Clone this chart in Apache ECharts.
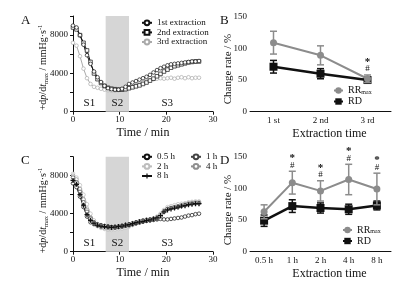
<!DOCTYPE html>
<html>
<head>
<meta charset="utf-8">
<script src="https://cdn.jsdelivr.net/npm/echarts@6/dist/echarts.min.js"></script>
<style>
html, body { margin: 0; padding: 0; background: #fff; }
#chart { width: 404px; height: 285px; }
</style>
</head>
<body>
<div id="chart"></div>
<script>
// time points (min)
const timeMin = [0, 0.75, 1.5, 2.25, 3, 3.75, 4.5, 5.25, 6, 6.75, 7.5, 8.25, 9, 9.75, 10.5, 11.25, 12, 12.75, 13.5,
  14.25, 15, 15.75, 16.5, 17.25, 18, 18.75, 19.5, 20.25, 21, 21.75, 22.5, 23.25, 24, 24.75, 25.5, 26.25, 27]

// panel A: +dp/dtmax per extraction
const ext1 = [9000, 8800, 8000, 7000, 5900, 5000, 4200, 3600, 3100, 2700, 2450, 2350, 2300, 2300, 2400, 2600, 2900, 3050, 3200,
  3350, 3500, 3650, 3850, 4100, 4350, 4550, 4700, 4850, 4950, 5000, 5050, 5100, 5150, 5200, 5250, 5250, 5300]
const ext2 = [8800, 8600, 8000, 7200, 6400, 5200, 4000, 3400, 3000, 2700, 2500, 2400, 2350, 2300, 2300, 2350, 2450, 2550, 2650,
  2750, 2900, 3050, 3250, 3450, 3700, 3950, 4200, 4400, 4600, 4750, 4850, 4950, 5050, 5150, 5200, 5250, 5250]
const ext3 = [7200, 6900, 5800, 4500, 3500, 2900, 2600, 2500, 2400, 2300, 2250, 2200, 2200, 2250, 2300, 2400, 2500, 2600, 2750,
  2900, 3050, 3200, 3300, 3400, 3450, 3500, 3450, 3500, 3550, 3450, 3550, 3600, 3500, 3600, 3500, 3550, 3550]

// panel C: +dp/dtmax per extraction duration
const h05 = [7200, 6800, 5800, 4700, 3700, 3100, 2900, 2800, 2750, 2700, 2650, 2600, 2600, 2650, 2700, 2750, 2800, 2900, 3000,
  3100, 3200, 3250, 3300, 3350, 3400, 3450, 3400, 3400, 3450, 3500, 3550, 3600, 3700, 3800, 3850, 3950, 4000]
const h1 = [7800, 7300, 6300, 5200, 4200, 3500, 3100, 2900, 2800, 2700, 2600, 2550, 2550, 2600, 2700, 2800, 2900, 3000, 3100,
  3200, 3300, 3350, 3400, 3450, 3500, 3700, 4200, 4500, 4600, 4650, 4700, 4800, 4900, 5000, 5050, 5100, 5100]
const h2 = [8200, 7800, 7000, 6000, 5000, 4000, 3300, 2800, 2500, 2400, 2300, 2300, 2350, 2400, 2450, 2550, 2650, 2800, 2950,
  3100, 3200, 3300, 3400, 3500, 3700, 4000, 4400, 4700, 4800, 4900, 5000, 5050, 5100, 5200, 5250, 5300, 5300]
const h4 = [8000, 7600, 6600, 5500, 4400, 3600, 3000, 2700, 2600, 2500, 2450, 2450, 2500, 2550, 2600, 2700, 2800, 2900, 3000,
  3050, 3150, 3250, 3350, 3450, 3600, 3900, 4300, 4500, 4600, 4700, 4800, 4900, 5000, 5100, 5150, 5200, 5200]
const h8 = [7500, 7100, 6000, 4900, 3900, 3300, 3000, 2800, 2700, 2650, 2600, 2550, 2600, 2650, 2700, 2800, 2850, 2950, 3050,
  3150, 3200, 3300, 3350, 3450, 3550, 3800, 4200, 4400, 4500, 4600, 4700, 4800, 4850, 4950, 5000, 5050, 5050]

// stages
const stageNames = ['S1', 'S2', 'S3']
const stageMid = [3.5, 9.5, 20.2]
const s2Range = [7, 12]

// panel B
const extCats = ['1 st', '2 nd', '3 rd']
const rrB = [109, 89, 52]
const rrBErr = [18, 15, 6]
const rdB = [71, 60, 50]
const rdBErr = [10, 8, 5]
const sigB = [0, 0, 1]

// panel D
const durCats = ['0.5 h', '1 h', '2 h', '4 h', '8 h']
const rrD = [63, 109, 96, 114, 99]
const rrDErr = [11, 18, 16, 24, 25]
const rdD = [49, 72, 69, 67, 73]
const rdDErr = [9, 10, 8, 8, 7]
const sigD = [0, 1, 1, 1, 1]

const FONT = '"Liberation Serif", "DejaVu Serif", serif'
const INK = '#111'
const GREY = '#8c8c8c'

const pairs = arr => timeMin.map((t, i) => [t, arr[i]])

const axisBase = {
  axisLine: { lineStyle: { color: INK, width: 1 } },
  axisTick: { length: 3, lineStyle: { color: INK } },
  splitLine: { show: false }
}

const timeAxis = gridIndex => ({
  ...axisBase,
  type: 'value', gridIndex, min: 0, max: 30, interval: 10,
  name: 'Time / min', nameLocation: 'middle', nameGap: 15,
  nameTextStyle: { fontFamily: FONT, fontSize: 12, color: INK },
  axisLabel: { fontFamily: FONT, fontSize: 9, color: INK, margin: 3 }
})

const pressureAxis = gridIndex => ({
  ...axisBase,
  type: 'value', gridIndex, min: 0, max: 10000, interval: 2000,
  axisLabel: {
    fontFamily: FONT, fontSize: 9, color: INK, margin: 5,
    formatter: v => (v % 4000 === 0 ? String(v) : '')
  }
})

const catAxis = (gridIndex, cats) => ({
  ...axisBase,
  type: 'category', gridIndex, data: cats, boundaryGap: true,
  axisTick: { length: 3, alignWithLabel: true, lineStyle: { color: INK } },
  name: 'Extraction time', nameLocation: 'middle', nameGap: 16,
  nameTextStyle: { fontFamily: FONT, fontSize: 12, color: INK, padding: [0, 0, 0, 18] },
  axisLabel: { fontFamily: FONT, fontSize: 9, color: INK, margin: 4 }
})

const rateAxis = gridIndex => ({
  ...axisBase,
  type: 'value', gridIndex, min: 0, max: 150, interval: 50,
  axisLabel: { fontFamily: FONT, fontSize: 9, color: INK, margin: 3 }
})

// rotated y titles
const pressureTitle = (x, y) => ({
  type: 'text', x, y, rotation: Math.PI / 2,
  style: {
    text: '{n|+d}{i|p}{n|/d}{i|t}{s|max}{n| / mmHg·s}{u|-1}',
    align: 'center', verticalAlign: 'middle', fill: INK,
    rich: {
      n: { fontFamily: FONT, fontSize: 10, lineHeight: 13, fill: INK },
      i: { fontFamily: FONT, fontSize: 10, lineHeight: 13, fontStyle: 'italic', fill: INK },
      s: { fontFamily: FONT, fontSize: 6.5, lineHeight: 7, verticalAlign: 'bottom', fill: INK },
      u: { fontFamily: FONT, fontSize: 6.5, lineHeight: 7, verticalAlign: 'top', fill: INK }
    }
  }
})
const rateTitle = (x, y) => ({
  type: 'text', x, y, rotation: Math.PI / 2,
  style: { text: 'Change rate / %', font: '11px ' + FONT, fill: INK, align: 'center', verticalAlign: 'middle' }
})

// hollow markers drawn as white-filled symbols with a thin border
const traceLine = (idx, name, arr, color, symbol, filled) => ({
  type: 'line', name, xAxisIndex: idx, yAxisIndex: idx,
  data: pairs(arr),
  symbol, symbolSize: filled ? 5 : 3.6,
  lineStyle: { width: 1, color },
  itemStyle: filled ? { color } : { color: '#fff', borderColor: color, borderWidth: 0.7 },
  z: 3
})

const shade = idx => ({
  type: 'line', xAxisIndex: idx, yAxisIndex: idx, data: [], z: 1,
  markArea: {
    silent: true,
    itemStyle: { color: '#d6d6d6' },
    data: [[{ xAxis: s2Range[0] }, { xAxis: s2Range[1] }]]
  }
})

const stageLabels = idx => ({
  type: 'custom', xAxisIndex: idx, yAxisIndex: idx, z: 4, silent: true,
  data: stageMid.map(x => [x, 900]),
  renderItem: (params, api) => {
    const p = api.coord([api.value(0), api.value(1)])
    return {
      type: 'text', x: p[0], y: p[1],
      style: { text: stageNames[params.dataIndex], font: '11px ' + FONT, fill: INK, align: 'center', verticalAlign: 'middle' }
    }
  }
})

const errorBars = (idx, means, errs, color, width, z) => ({
  type: 'custom', xAxisIndex: idx, yAxisIndex: idx, z, silent: true,
  data: means.map((m, i) => [i, m - errs[i], m + errs[i]]),
  renderItem: (params, api) => {
    const lo = api.coord([api.value(0), api.value(1)])
    const hi = api.coord([api.value(0), api.value(2)])
    const w = 3.5
    const st = { stroke: color, lineWidth: width }
    return {
      type: 'group',
      children: [
        { type: 'line', shape: { x1: lo[0], y1: lo[1], x2: hi[0], y2: hi[1] }, style: st },
        { type: 'line', shape: { x1: hi[0] - w, y1: hi[1], x2: hi[0] + w, y2: hi[1] }, style: st },
        { type: 'line', shape: { x1: lo[0] - w, y1: lo[1], x2: lo[0] + w, y2: lo[1] }, style: st }
      ]
    }
  }
})

const sigMarks = (idx, means, errs, flags) => ({
  type: 'custom', xAxisIndex: idx, yAxisIndex: idx, z: 6, silent: true,
  data: means.map((m, i) => [i, m + errs[i]]).filter((d, i) => flags[i]),
  renderItem: (params, api) => {
    const p = api.coord([api.value(0), api.value(1)])
    return {
      type: 'group',
      children: [
        { type: 'text', x: p[0], y: p[1] - 6, style: { text: '#', font: '9px ' + FONT, fill: INK, align: 'center', verticalAlign: 'middle' } },
        { type: 'text', x: p[0], y: p[1] - 13, style: { text: '*', font: 'bold 11px ' + FONT, fill: INK, align: 'center', verticalAlign: 'middle' } }
      ]
    }
  }
})

const rateLines = (idx, rr, rd) => [
  {
    type: 'line', name: 'RD', xAxisIndex: idx, yAxisIndex: idx, data: rd,
    symbol: 'rect', symbolSize: 8,
    lineStyle: { width: 2.5, color: INK }, itemStyle: { color: INK }, z: 3
  },
  {
    type: 'line', name: 'RRmax', xAxisIndex: idx, yAxisIndex: idx, data: rr,
    symbol: 'circle', symbolSize: 7,
    lineStyle: { width: 2, color: GREY }, itemStyle: { color: GREY }, z: 5
  }
]

const legendText = { fontFamily: FONT, fontSize: 9, color: INK, lineHeight: 9.6 }
const traceLegend = (data, left, top) => ({
  data, orient: 'vertical', left, top,
  itemWidth: 10, itemHeight: 6, itemGap: 0, textStyle: legendText
})
const rrLegend = (left, top) => ({
  data: ['RRmax', 'RD'], orient: 'vertical', left, top,
  itemWidth: 9, itemHeight: 8, itemGap: 1,
  formatter: n => (n === 'RRmax' ? 'RR{s|max}' : n),
  textStyle: {
    fontFamily: FONT, fontSize: 10, color: INK, lineHeight: 9,
    rich: { s: { fontFamily: FONT, fontSize: 6, verticalAlign: 'bottom', lineHeight: 8, color: INK } }
  }
})

const letter = (text, left, top) => ({
  text, left, top, textStyle: { fontFamily: FONT, fontSize: 13, fontWeight: 'normal', color: INK }
})

const chart = echarts.init(document.getElementById('chart'))
chart.setOption({
  animation: false,
  backgroundColor: '#fff',
  title: [letter('A', 16, 9), letter('B', 215, 9), letter('C', 16, 149), letter('D', 215, 149)],
  graphic: [
    pressureTitle(43, 67.5),
    pressureTitle(43, 210.5),
    rateTitle(228, 69),
    rateTitle(228, 210)
  ],
  grid: [
    { left: 73, top: 16, width: 140, height: 95.7 },
    { left: 250, top: 16.7, width: 141, height: 95 },
    { left: 73, top: 156.7, width: 140, height: 95 },
    { left: 250, top: 156.7, width: 141, height: 95 }
  ],
  xAxis: [timeAxis(0), catAxis(1, extCats), timeAxis(2), catAxis(3, durCats)],
  yAxis: [pressureAxis(0), rateAxis(1), pressureAxis(2), rateAxis(3)],
  legend: [
    traceLegend(['1st extraction', '2nd extraction', '3rd extraction'], 136, 13),
    traceLegend(['0.5 h', '2 h', '8 h'], 136, 147),
    traceLegend(['1 h', '4 h'], 185, 147),
    rrLegend(328, 80.5),
    rrLegend(337, 220)
  ],
  series: [
    shade(0),
    traceLine(0, '3rd extraction', ext3, '#aaaaaa', 'circle'),
    traceLine(0, '2nd extraction', ext2, INK, 'rect'),
    traceLine(0, '1st extraction', ext1, INK, 'circle'),
    stageLabels(0),

    errorBars(1, rdB, rdBErr, INK, 1.5, 2),
    errorBars(1, rrB, rrBErr, GREY, 1.5, 4),
    ...rateLines(1, rrB, rdB),
    sigMarks(1, rrB, rrBErr, sigB),

    shade(2),
    traceLine(2, '2 h', h2, '#bdbdbd', 'circle'),
    traceLine(2, '4 h', h4, '#8f8f8f', 'circle'),
    traceLine(2, '0.5 h', h05, INK, 'circle'),
    traceLine(2, '1 h', h1, '#444444', 'circle'),
    traceLine(2, '8 h', h8, INK, 'path://M3,0H5V3H8V5H5V8H3V5H0V3H3Z', true),
    stageLabels(2),

    errorBars(3, rdD, rdDErr, INK, 1.5, 2),
    errorBars(3, rrD, rrDErr, GREY, 1.5, 4),
    ...rateLines(3, rrD, rdD),
    sigMarks(3, rrD, rrDErr, sigD)
  ]
})
</script>
</body>
</html>
